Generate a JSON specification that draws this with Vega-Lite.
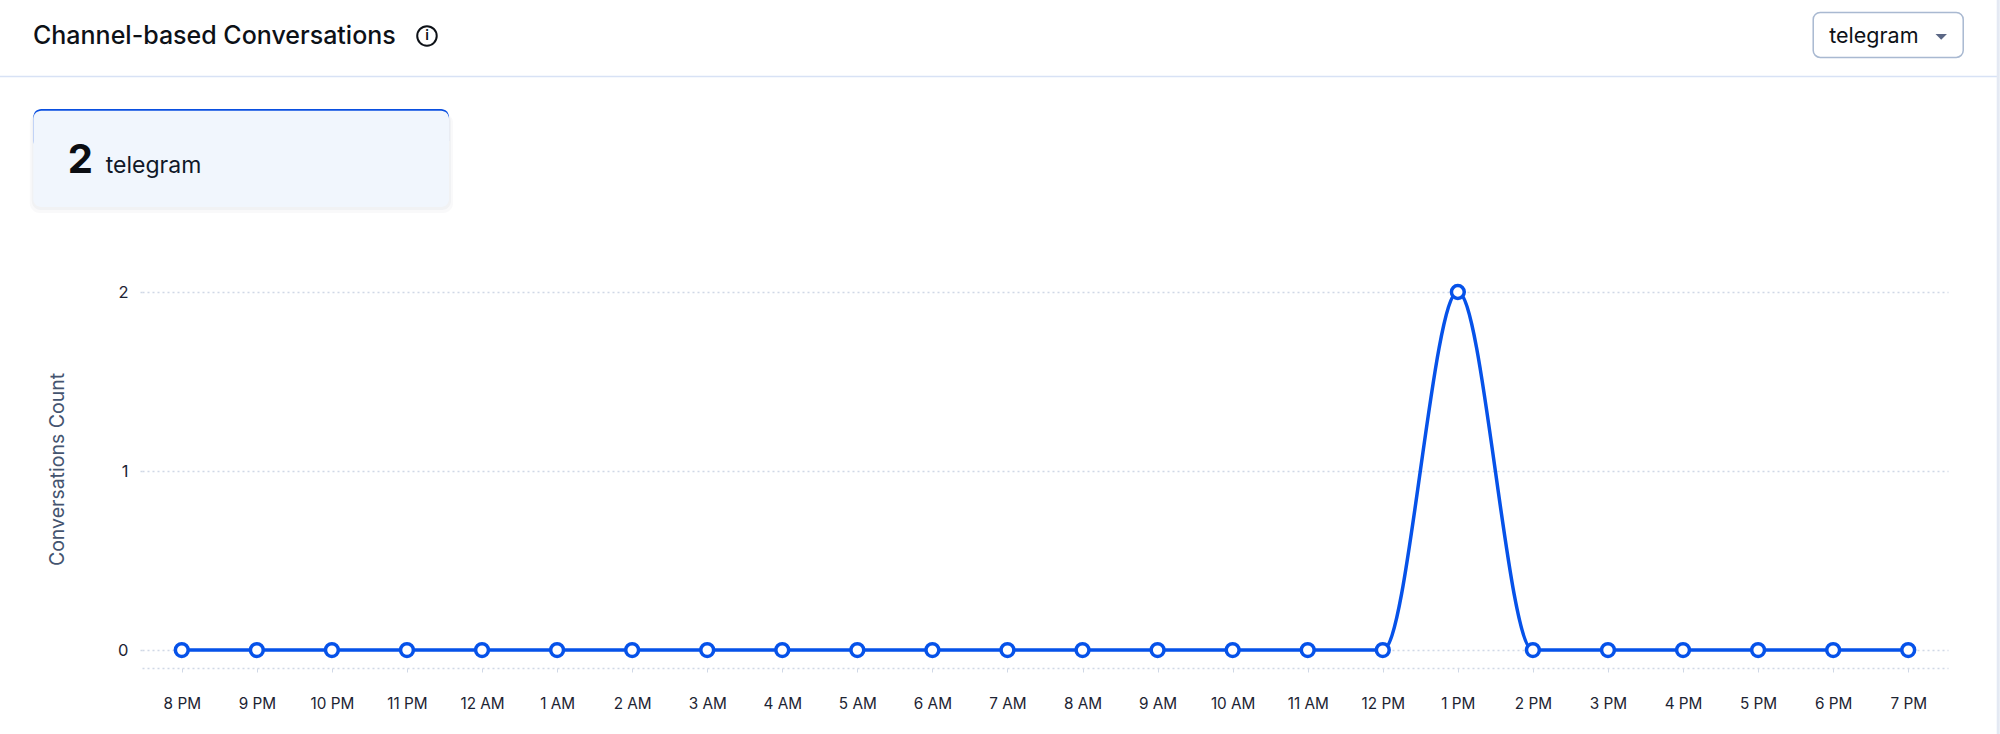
{"$schema":"https://vega.github.io/schema/vega-lite/v6.json","width":1806,"height":376,"autosize":"none","padding":{"left":142,"top":292,"right":52,"bottom":66},"background":"#ffffff","config":{"view":{"stroke":null},"font":"Inter"},
"title":{"text":"Channel-based Conversations","anchor":"start","frame":"group","dx":-109,"offset":-71,"baseline":"alphabetic","font":"Inter","fontSize":25,"fontWeight":500,"color":"#0d1117"},
"datasets":{"hours":[{"hour":"8 PM","count":0},{"hour":"9 PM","count":0},{"hour":"10 PM","count":0},{"hour":"11 PM","count":0},{"hour":"12 AM","count":0},{"hour":"1 AM","count":0},{"hour":"2 AM","count":0},{"hour":"3 AM","count":0},{"hour":"4 AM","count":0},{"hour":"5 AM","count":0},{"hour":"6 AM","count":0},{"hour":"7 AM","count":0},{"hour":"8 AM","count":0},{"hour":"9 AM","count":0},{"hour":"10 AM","count":0},{"hour":"11 AM","count":0},{"hour":"12 PM","count":0},{"hour":"1 PM","count":2},{"hour":"2 PM","count":0},{"hour":"3 PM","count":0},{"hour":"4 PM","count":0},{"hour":"5 PM","count":0},{"hour":"6 PM","count":0},{"hour":"7 PM","count":0}],"kpi":[{"channel":"telegram","total":2}]},
"layer":[
{"data":{"name":"kpi"},"mark":{"type":"rule","stroke":"#d8e2f5","strokeWidth":1.5,"xOffset":-182,"x2Offset":90},"encoding":{"x":{"datum":"8 PM","type":"nominal","scale":{"type":"point"}},"x2":{"datum":"7 PM"},"y":{"datum":3.204,"type":"quantitative"}}},
{"data":{"name":"kpi"},"mark":{"type":"rule","stroke":"#e4e9f3","strokeWidth":3,"xOffset":90},"encoding":{"x":{"datum":"7 PM","type":"nominal","scale":{"type":"point"}},"y":{"datum":3.631,"type":"quantitative"},"y2":{"datum":-0.469}}},
{"data":{"name":"kpi"},"mark":{"type":"rect","fill":"#33415c","opacity":0.03,"cornerRadius":10,"xOffset":-152,"x2Offset":-29},"encoding":{"x":{"datum":"8 PM","type":"nominal","scale":{"type":"point"}},"x2":{"datum":"12 AM"},"y":{"datum":3.0,"type":"quantitative"},"y2":{"datum":2.441}}},
{"data":{"name":"kpi"},"mark":{"type":"rect","fill":"#33415c","opacity":0.04,"cornerRadius":9,"xOffset":-150,"x2Offset":-31},"encoding":{"x":{"datum":"8 PM","type":"nominal","scale":{"type":"point"}},"x2":{"datum":"12 AM"},"y":{"datum":3.0,"type":"quantitative"},"y2":{"datum":2.458}}},
{"data":{"name":"kpi"},"mark":{"type":"rect","fill":"#0a4fe0","cornerRadius":8,"xOffset":-148.5,"x2Offset":-33},"encoding":{"x":{"datum":"8 PM","type":"nominal","scale":{"type":"point"}},"x2":{"datum":"12 AM"},"y":{"datum":3.022,"type":"quantitative"},"y2":{"datum":2.8}}},
{"data":{"name":"kpi"},"mark":{"type":"rect","fill":"#f1f6fd","cornerRadius":8,"xOffset":-148.5,"x2Offset":-33},"encoding":{"x":{"datum":"8 PM","type":"nominal","scale":{"type":"point"}},"x2":{"datum":"12 AM"},"y":{"datum":3.012,"type":"quantitative"},"y2":{"datum":2.475}}},
{"data":{"name":"kpi"},"mark":{"type":"text","align":"left","baseline":"alphabetic","font":"Inter","fontSize":40,"fontWeight":700,"color":"#0b0d12","dx":-114},"encoding":{"x":{"datum":"8 PM","type":"nominal","scale":{"type":"point"}},"y":{"datum":2.665,"type":"quantitative"},"text":{"field":"total","type":"quantitative"}}},
{"data":{"name":"kpi"},"mark":{"type":"text","align":"left","baseline":"alphabetic","font":"Inter","fontSize":23,"color":"#101828","dx":-76},"encoding":{"x":{"datum":"8 PM","type":"nominal","scale":{"type":"point"}},"y":{"datum":2.663,"type":"quantitative"},"text":{"field":"channel","type":"nominal"}}},
{"data":{"name":"kpi"},"mark":{"type":"rect","fill":"#ffffff","stroke":"#a9b9d1","strokeWidth":1.5,"cornerRadius":7,"xOffset":-95,"x2Offset":55},"encoding":{"x":{"datum":"7 PM","type":"nominal","scale":{"type":"point"}},"x2":{"datum":"7 PM"},"y":{"datum":3.561,"type":"quantitative"},"y2":{"datum":3.31}}},
{"data":{"name":"kpi"},"mark":{"type":"text","align":"left","baseline":"alphabetic","font":"Inter","fontSize":21.5,"color":"#0d1117","dx":-79},"encoding":{"x":{"datum":"7 PM","type":"nominal","scale":{"type":"point"}},"y":{"datum":3.391,"type":"quantitative"},"text":{"field":"channel","type":"nominal"}}},
{"data":{"name":"kpi"},"mark":{"type":"point","shape":"M-1,-0.5L1,-0.5L0,0.5Z","filled":true,"fill":"#5b6785","opacity":1,"size":130,"xOffset":33},"encoding":{"x":{"datum":"7 PM","type":"nominal","scale":{"type":"point"}},"y":{"datum":3.425,"type":"quantitative"}}},
{"data":{"name":"kpi"},"mark":{"type":"point","shape":"circle","filled":false,"stroke":"#0d1117","strokeWidth":2,"opacity":1,"size":380,"xOffset":20},"encoding":{"x":{"datum":"11 PM","type":"nominal","scale":{"type":"point"}},"y":{"datum":3.43,"type":"quantitative"}}},
{"data":{"name":"kpi"},"mark":{"type":"text","text":"i","align":"center","baseline":"middle","font":"Inter","fontSize":14,"fontWeight":600,"color":"#0d1117","dx":20},"encoding":{"x":{"datum":"11 PM","type":"nominal","scale":{"type":"point"}},"y":{"datum":3.43,"type":"quantitative"}}},
{"data":{"name":"hours"},"mark":{"type":"line","interpolate":"monotone","stroke":"#0652e9","strokeWidth":3.5},"encoding":{"x":{"field":"hour","type":"nominal","sort":null,"title":null,"scale":{"type":"point","domain":["8 PM","9 PM","10 PM","11 PM","12 AM","1 AM","2 AM","3 AM","4 AM","5 AM","6 AM","7 AM","8 AM","9 AM","10 AM","11 AM","12 PM","1 PM","2 PM","3 PM","4 PM","5 PM","6 PM","7 PM"],"padding":0.53},"axis":{"labelAngle":0,"labelAlign":"center","labelBaseline":"top","labelOverlap":false,"labelFont":"Inter","labelFontSize":15.3,"labelColor":"#1d2433","labelPadding":24,"tickSize":4,"tickColor":"#d0d8e6","domainColor":"#d0d8e6","domainDash":[2,3],"domainWidth":1.5,"grid":false}},"y":{"field":"count","type":"quantitative","title":"Conversations Count","scale":{"domain":[-0.1,2],"nice":false,"zero":false},"axis":{"tickCount":2,"format":"d","labelOverlap":false,"labelFont":"Inter","labelFontSize":16.5,"labelColor":"#1d2433","labelPadding":9,"tickSize":5,"tickColor":"#d0d8e6","tickDash":[2,3],"tickWidth":1.5,"domain":false,"grid":true,"gridColor":"#d0d8e6","gridDash":[2,3],"gridWidth":1.5,"titleFont":"Inter","titleFontSize":19.5,"titleFontWeight":400,"titleColor":"#44546f","titleX":-85,"titleY":177,"titleAlign":"center","titleBaseline":"middle"}}}},
{"data":{"name":"hours"},"mark":{"type":"point","shape":"circle","filled":false,"fill":"#ffffff","fillOpacity":1,"stroke":"#0652e9","strokeWidth":3.5,"opacity":1,"size":165},"encoding":{"x":{"field":"hour","type":"nominal","sort":null},"y":{"field":"count","type":"quantitative"}}}
]}
